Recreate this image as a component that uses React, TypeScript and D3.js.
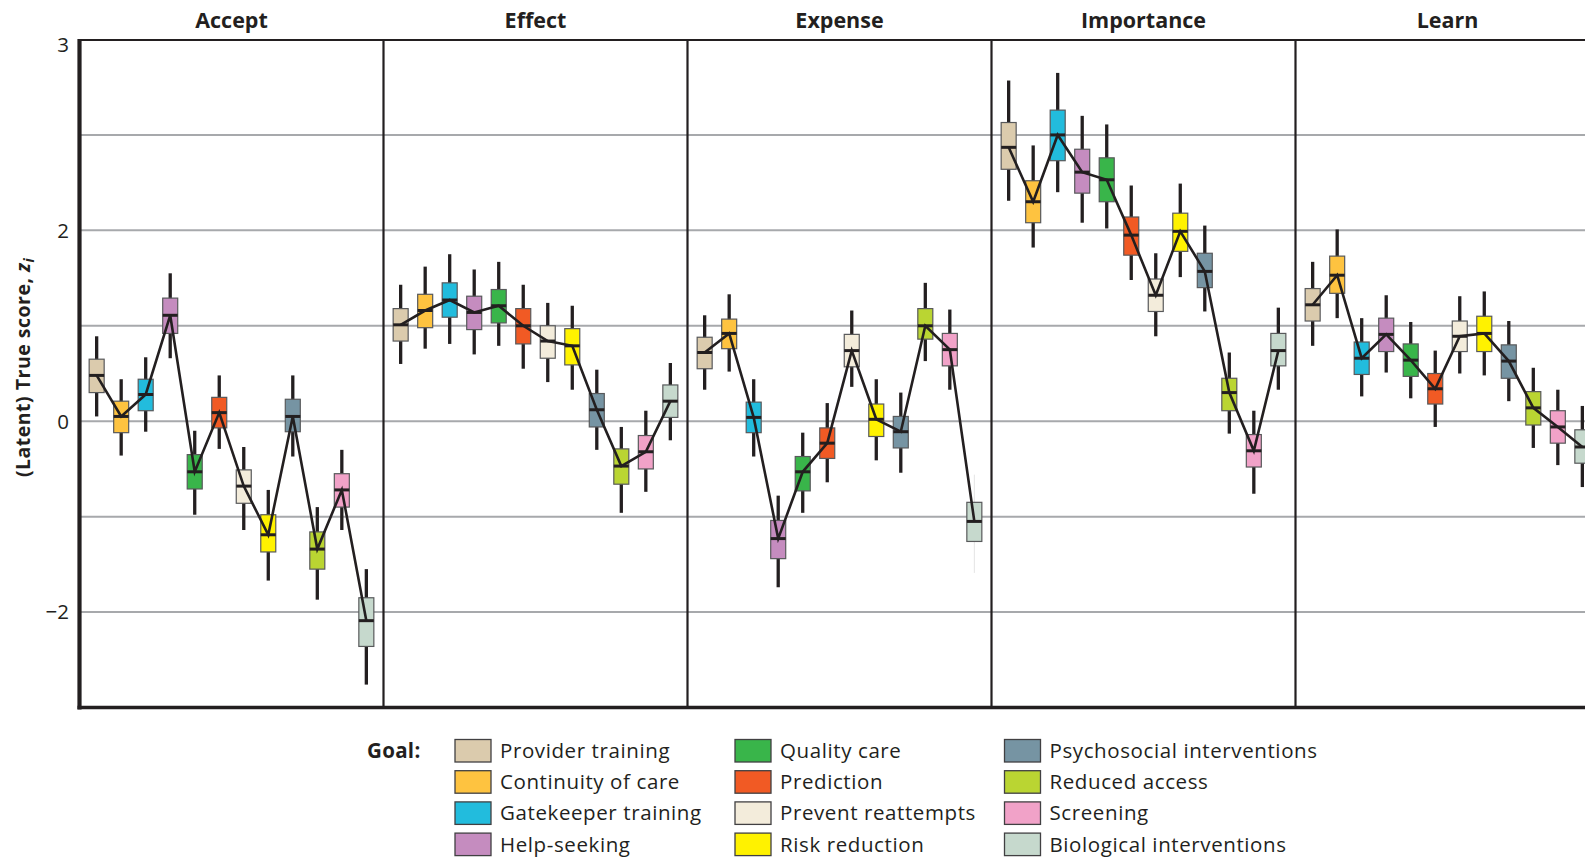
import React from "react";
import * as d3 from "d3";

const panels = ["Accept", "Effect", "Expense", "Importance", "Learn"];

const goals = [
  "Provider training",
  "Continuity of care",
  "Gatekeeper training",
  "Help-seeking",
  "Quality care",
  "Prediction",
  "Prevent reattempts",
  "Risk reduction",
  "Psychosocial interventions",
  "Reduced access",
  "Screening",
  "Biological interventions",
];

const goalColors = [
  "#dbcbad",
  "#fec340",
  "#22bcdd",
  "#c58cbf",
  "#39b54a",
  "#f15a24",
  "#f3ecdb",
  "#fff200",
  "#7694a3",
  "#bad532",
  "#f1a2c8",
  "#c6d9cd",
];

// [whisker low, box low, median, box high, whisker high]
const acceptStats = [
  [0.05, 0.3, 0.48, 0.65, 0.89],
  [-0.36, -0.12, 0.05, 0.21, 0.44],
  [-0.11, 0.11, 0.28, 0.44, 0.67],
  [0.66, 0.92, 1.11, 1.29, 1.55],
  [-0.98, -0.71, -0.53, -0.35, -0.1],
  [-0.29, -0.07, 0.09, 0.25, 0.48],
  [-1.14, -0.86, -0.68, -0.51, -0.27],
  [-1.67, -1.37, -1.19, -0.98, -0.72],
  [-0.37, -0.11, 0.05, 0.23, 0.48],
  [-1.87, -1.55, -1.34, -1.16, -0.9],
  [-1.14, -0.9, -0.72, -0.55, -0.3],
  [-2.76, -2.36, -2.09, -1.85, -1.55],
];

const effectStats = [
  [0.6, 0.84, 1.01, 1.18, 1.43],
  [0.76, 0.98, 1.16, 1.33, 1.62],
  [0.81, 1.09, 1.27, 1.45, 1.75],
  [0.7, 0.96, 1.14, 1.31, 1.59],
  [0.79, 1.03, 1.21, 1.38, 1.67],
  [0.55, 0.81, 1.0, 1.18, 1.43],
  [0.41, 0.66, 0.84, 1.0, 1.24],
  [0.33, 0.59, 0.79, 0.97, 1.21],
  [-0.3, -0.06, 0.12, 0.29, 0.54],
  [-0.96, -0.66, -0.47, -0.29, -0.06],
  [-0.74, -0.5, -0.32, -0.15, 0.11],
  [-0.2, 0.04, 0.21, 0.38, 0.61],
];

const expenseStats = [
  [0.33, 0.55, 0.72, 0.88, 1.11],
  [0.52, 0.76, 0.92, 1.07, 1.33],
  [-0.37, -0.12, 0.04, 0.2, 0.44],
  [-1.74, -1.44, -1.23, -1.04, -0.78],
  [-0.96, -0.73, -0.53, -0.37, -0.12],
  [-0.64, -0.39, -0.23, -0.07, 0.19],
  [0.36, 0.57, 0.74, 0.91, 1.16],
  [-0.41, -0.16, 0.02, 0.18, 0.44],
  [-0.54, -0.28, -0.11, 0.05, 0.3],
  [0.63, 0.86, 1.0, 1.18, 1.45],
  [0.33, 0.58, 0.75, 0.92, 1.17],
  [-1.59, -1.26, -1.05, -0.85, -0.56],
];

const importanceStats = [
  [2.31, 2.64, 2.87, 3.13, 3.57],
  [1.82, 2.08, 2.3, 2.52, 2.89],
  [2.4, 2.73, 3.0, 3.26, 3.65],
  [2.08, 2.39, 2.61, 2.85, 3.2],
  [2.02, 2.3, 2.53, 2.76, 3.11],
  [1.48, 1.74, 1.95, 2.14, 2.47],
  [0.89, 1.15, 1.32, 1.49, 1.76],
  [1.51, 1.78, 1.99, 2.18, 2.49],
  [1.15, 1.4, 1.57, 1.76, 2.05],
  [-0.13, 0.11, 0.3, 0.45, 0.72],
  [-0.76, -0.48, -0.31, -0.14, 0.11],
  [0.33, 0.58, 0.74, 0.92, 1.19],
];

const learnStats = [
  [0.79, 1.05, 1.22, 1.39, 1.67],
  [1.08, 1.34, 1.53, 1.73, 2.01],
  [0.26, 0.49, 0.66, 0.83, 1.08],
  [0.51, 0.73, 0.91, 1.08, 1.32],
  [0.24, 0.47, 0.64, 0.81, 1.04],
  [-0.06, 0.18, 0.34, 0.5, 0.74],
  [0.5, 0.73, 0.89, 1.05, 1.31],
  [0.48, 0.73, 0.92, 1.1, 1.36],
  [0.21, 0.45, 0.63, 0.8, 1.05],
  [-0.28, -0.04, 0.14, 0.31, 0.56],
  [-0.46, -0.23, -0.06, 0.11, 0.33],
  [-0.69, -0.44, -0.27, -0.09, 0.16],
];

const panelStats = [acceptStats, effectStats, expenseStats, importanceStats, learnStats];

const gridValues = [-2, -1, 0, 1, 2, 3];
const tickValues = [4, 2, 0, -2];
const tickLabels = ["3", "2", "0", "\u22122"];

// whiskers that are drawn nearly invisible in the original
const faintWhiskers = [{ panel: "Expense", goal: "Biological interventions" }];

const INK = "#231f20";
const FONT = "'Open Sans', 'Noto Sans', sans-serif";

export default function App() {
  const W = 1585;
  const H = 861;
  const top = 39.5;
  const bottom = 707.5;
  const left = 79.5;
  const panelW = 304;

  const y = d3.scaleLinear().domain([-3, 4]).range([bottom, top]);
  const px = d3
    .scaleBand<string>()
    .domain(panels)
    .range([left, left + panels.length * panelW]);
  const gx = d3
    .scalePoint<string>()
    .domain(goals)
    .range([0, px.bandwidth()])
    .padding(0.7);

  const boxW = 15;
  const line = d3
    .line<number[]>()
    .x((_, i) => gx(goals[i]) as number)
    .y((d) => y(d[2]));

  const legendColX = [455, 735, 1004.5];
  const legendRowY0 = 739.5;
  const legendRowStep = 31.2;

  return (
    <svg
      width={W}
      height={H}
      style={{ position: "absolute", left: 0, top: 0, background: "#fff" }}
      fontFamily={FONT}
    >
      {/* gridlines */}
      {gridValues.map((v) => (
        <line
          key={"g" + v}
          x1={left}
          x2={W}
          y1={y(v)}
          y2={y(v)}
          stroke="#a7a9ac"
          strokeWidth={2}
        />
      ))}
      {/* panel dividers */}
      {panels.map((p, i) =>
        i === 0 ? null : (
          <line
            key={"d" + p}
            x1={px(p)}
            x2={px(p)}
            y1={top}
            y2={bottom}
            stroke={INK}
            strokeWidth={2.2}
          />
        )
      )}
      {/* top border */}
      <line x1={left} x2={W + 20} y1={top + 0.5} y2={top + 0.5} stroke={INK} strokeWidth={2.2} />

      {/* panel titles */}
      {panels.map((p) => (
        <text
          key={"t" + p}
          x={(px(p) as number) + px.bandwidth() / 2}
          y={28}
          textAnchor="middle"
          fontWeight="bold"
          fontSize={21.5}
          fill={INK}
        >
          {p}
        </text>
      ))}

      {/* boxes */}
      {panels.map((p, pi) => {
        const x0 = px(p) as number;
        const stats = panelStats[pi];
        return (
          <g key={"p" + p} transform={`translate(${x0},0)`}>
            {stats.map((s, gi) => {
              const cx = gx(goals[gi]) as number;
              const faint = faintWhiskers.some((f) => f.panel === p && f.goal === goals[gi]);
              return (
                <g key={gi}>
                  <line
                    x1={cx}
                    x2={cx}
                    y1={y(s[0])}
                    y2={y(s[4])}
                    stroke={faint ? "#e4e4e4" : INK}
                    strokeWidth={faint ? 1 : 3.3}
                  />
                  <rect
                    x={cx - boxW / 2}
                    y={y(s[3])}
                    width={boxW}
                    height={y(s[1]) - y(s[3])}
                    fill={goalColors[gi]}
                    stroke="#58595b"
                    strokeWidth={1.2}
                  />
                  <line
                    x1={cx - boxW / 2}
                    x2={cx + boxW / 2}
                    y1={y(s[2])}
                    y2={y(s[2])}
                    stroke={INK}
                    strokeWidth={3}
                  />
                </g>
              );
            })}
            <path d={line(stats) || ""} fill="none" stroke={INK} strokeWidth={2.6} strokeLinejoin="miter" />
          </g>
        );
      })}

      {/* axes */}
      <line x1={left} x2={left} y1={top - 0.5} y2={bottom + 2} stroke={INK} strokeWidth={4.2} />
      <line x1={left - 2} x2={W + 20} y1={bottom} y2={bottom} stroke={INK} strokeWidth={3.6} />

      {/* y tick labels */}
      {tickValues.map((v, i) => (
        <text
          key={"yt" + v}
          x={69}
          y={Math.max(y(v), 44.5)}
          dy="0.36em"
          textAnchor="end"
          fontSize={20.5}
          fill={INK}
        >
          {tickLabels[i]}
        </text>
      ))}

      {/* y axis title */}
      <text
        transform={`translate(29.5,${(top + bottom) / 2 - 6}) rotate(-90)`}
        textAnchor="middle"
        fontWeight="bold"
        fontSize={19.5}
        letterSpacing={0.5}
        fill={INK}
      >
        (Latent) True score,{" "}
        <tspan fontStyle="italic">z</tspan>
        <tspan fontStyle="italic" fontSize={14} dy={4}>
          i
        </tspan>
      </text>

      {/* legend */}
      <text x={367} y={legendRowY0 + 18.5} fontWeight="bold" fontSize={20.5} letterSpacing={0.3} fill={INK}>
        Goal:
      </text>
      {goals.map((g, i) => {
        const col = Math.floor(i / 4);
        const row = i % 4;
        const x = legendColX[col];
        const yy = legendRowY0 + row * legendRowStep;
        return (
          <g key={"l" + g}>
            <rect x={x} y={yy} width={36} height={22.5} fill={goalColors[i]} stroke="#414042" strokeWidth={1.3} />
            <text x={x + 45} y={yy + 18.5} fontSize={20.5} letterSpacing={0.6} fill={INK}>
              {g}
            </text>
          </g>
        );
      })}
    </svg>
  );
}
